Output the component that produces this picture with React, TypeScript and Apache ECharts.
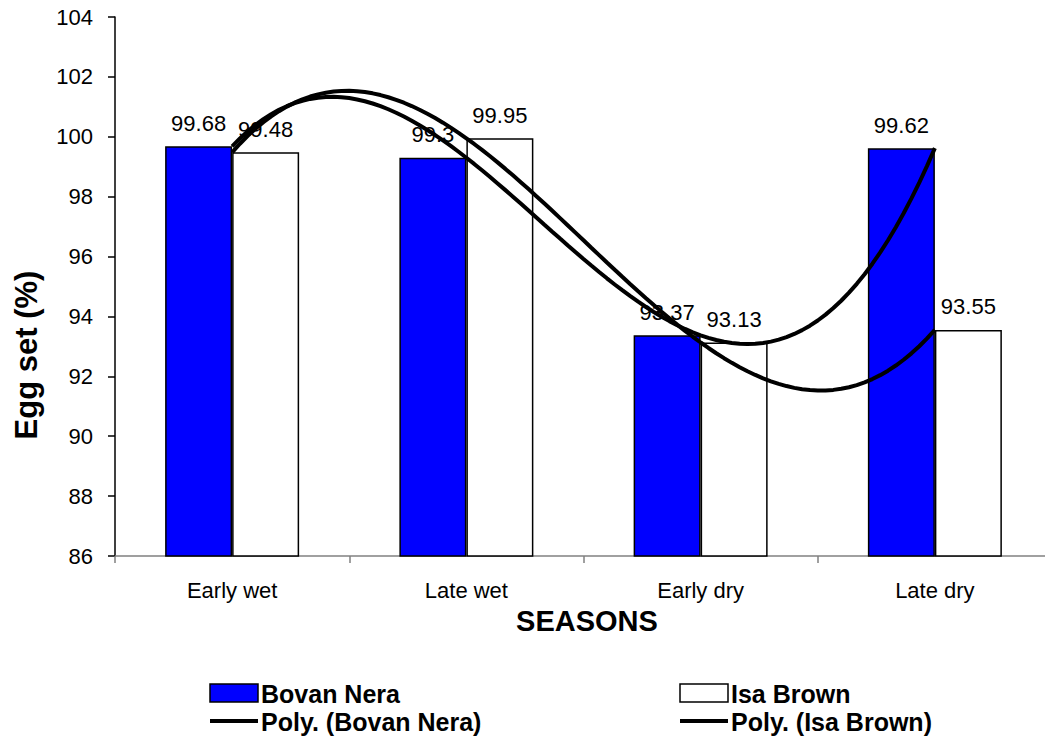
import React, { useEffect, useRef } from "react";
import * as echarts from "echarts";

const categories = ["Early wet", "Late wet", "Early dry", "Late dry"];
const bovanNera = [99.68, 99.3, 93.37, 99.62];
const isaBrown = [99.48, 99.95, 93.13, 93.55];
const yMin = 86;
const yMax = 104;
const yInterval = 2;
const seriesNames = ["Bovan Nera", "Isa Brown", "Poly. (Bovan Nera)", "Poly. (Isa Brown)"];
const yTitle = "Egg set (%)";
const xTitle = "SEASONS";

// Polynomial (order 3) trendline, as in the source spreadsheet: the cubic through the 4 series values,
// evaluated along the category positions 1..4.
function polyTrend(values: number[], steps: number): number[][] {
  const xs = values.map((_, i) => i + 1);
  const pts: number[][] = [];
  for (let s = 0; s <= steps; s++) {
    const x = 1 + ((xs.length - 1) * s) / steps;
    let y = 0;
    for (let i = 0; i < xs.length; i++) {
      let term = values[i];
      for (let j = 0; j < xs.length; j++) {
        if (j !== i) term *= (x - xs[j]) / (xs[i] - xs[j]);
      }
      y += term;
    }
    pts.push([x, y]);
  }
  return pts;
}

const FONT = "'Liberation Sans', Arial, sans-serif";
const CHART_W = 1070;
const CHART_H = 744;

export default function App() {
  const ref = useRef<HTMLDivElement>(null);
  useEffect(() => {
    if (!ref.current) return;
    const chart = echarts.init(ref.current, undefined, { renderer: "svg" });
    const gridLeft = 115;
    const gridTop = 17;
    const gridW = 937;
    const gridH = 539;
    chart.setOption({
      animation: false,
      backgroundColor: "#ffffff",
      textStyle: { fontFamily: FONT, color: "#000" },
      grid: { left: gridLeft, top: gridTop, width: gridW, height: gridH, containLabel: false },
      xAxis: [
        {
          type: "category",
          data: categories,
          axisLine: { lineStyle: { color: "#808080", width: 1.5 } },
          axisTick: { show: true, length: 7, lineStyle: { color: "#808080", width: 1.5 } },
          axisLabel: { color: "#000", fontSize: 22, fontFamily: FONT, margin: 23 },
          splitLine: { show: false },
        },
        {
          type: "value",
          min: 0.5,
          max: 4.5,
          show: false,
          splitLine: { show: false },
        },
      ],
      yAxis: {
        type: "value",
        min: yMin,
        max: yMax,
        interval: yInterval,
        axisLine: { show: true, lineStyle: { color: "#000", width: 1.5 } },
        axisTick: { show: true, length: 7, lineStyle: { color: "#000", width: 1.5 } },
        axisLabel: { color: "#000", fontSize: 22, fontFamily: FONT, margin: 22 },
        splitLine: { show: false },
      },
      series: [
        {
          name: seriesNames[0],
          type: "bar",
          data: bovanNera,
          barWidth: 67,
          barGap: "0%",
          itemStyle: { color: "#0000ff", borderColor: "#000", borderWidth: 1.5 },
          label: { show: true, position: "top", distance: 12, color: "#000", fontSize: 22, fontFamily: FONT },
          z: 2,
        },
        {
          name: seriesNames[1],
          type: "bar",
          data: isaBrown,
          barWidth: 67,
          barGap: "0%",
          itemStyle: { color: "#ffffff", borderColor: "#000", borderWidth: 1.5 },
          label: { show: true, position: "top", distance: 12, color: "#000", fontSize: 22, fontFamily: FONT },
          z: 2,
        },
        {
          name: seriesNames[2],
          type: "line",
          xAxisIndex: 1,
          data: polyTrend(bovanNera, 90),
          showSymbol: false,
          symbol: "none",
          lineStyle: { color: "#000", width: 4 },
          z: 10,
        },
        {
          name: seriesNames[3],
          type: "line",
          xAxisIndex: 1,
          data: polyTrend(isaBrown, 90),
          showSymbol: false,
          symbol: "none",
          lineStyle: { color: "#000", width: 4 },
          z: 10,
        },
      ],
      graphic: [
        {
          type: "text",
          x: 26,
          y: 355,
          rotation: Math.PI / 2,
          style: { text: yTitle, font: `bold 31px ${FONT}`, fill: "#000", align: "center", verticalAlign: "middle" },
        },
        {
          type: "text",
          x: 587,
          y: 621,
          style: { text: xTitle, font: `bold 29px ${FONT}`, fill: "#000", align: "center", verticalAlign: "middle" },
        },
        {
          type: "rect",
          shape: { x: 210, y: 684, width: 48, height: 18 },
          style: { fill: "#0000ff", stroke: "#000", lineWidth: 1.5 },
        },
        {
          type: "text",
          x: 261,
          y: 694,
          style: { text: seriesNames[0], font: `bold 25px ${FONT}`, fill: "#000", align: "left", verticalAlign: "middle" },
        },
        {
          type: "rect",
          shape: { x: 680, y: 684, width: 48, height: 18 },
          style: { fill: "#ffffff", stroke: "#000", lineWidth: 1.5 },
        },
        {
          type: "text",
          x: 731,
          y: 694,
          style: { text: seriesNames[1], font: `bold 25px ${FONT}`, fill: "#000", align: "left", verticalAlign: "middle" },
        },
        {
          type: "line",
          shape: { x1: 210, y1: 721, x2: 258, y2: 721 },
          style: { stroke: "#000", lineWidth: 4 },
        },
        {
          type: "text",
          x: 261,
          y: 722,
          style: { text: seriesNames[2], font: `bold 25px ${FONT}`, fill: "#000", align: "left", verticalAlign: "middle" },
        },
        {
          type: "line",
          shape: { x1: 680, y1: 721, x2: 728, y2: 721 },
          style: { stroke: "#000", lineWidth: 4 },
        },
        {
          type: "text",
          x: 731,
          y: 722,
          style: { text: seriesNames[3], font: `bold 25px ${FONT}`, fill: "#000", align: "left", verticalAlign: "middle" },
        },
      ],
    });
    return () => chart.dispose();
  }, []);
  return (
    <div style={{ position: "fixed", left: 0, top: 0, width: 1045, height: 744, overflow: "hidden", background: "#fff" }}>
      <div ref={ref} style={{ width: CHART_W, height: CHART_H, background: "#fff" }} />
    </div>
  );
}
